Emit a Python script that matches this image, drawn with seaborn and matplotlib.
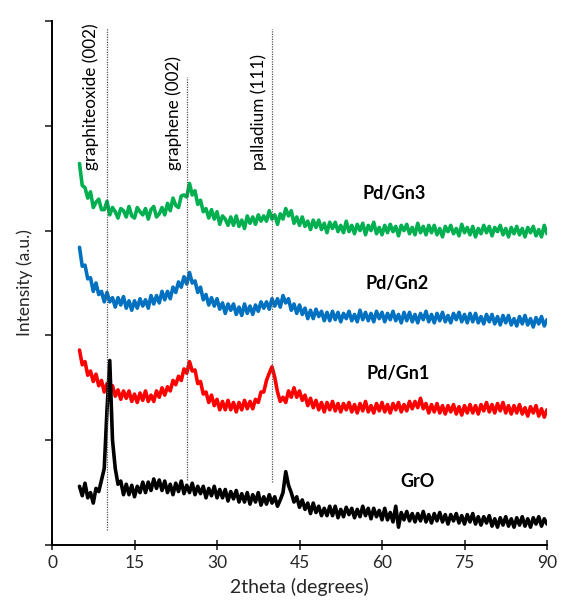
import numpy as np
import pandas as pd
import matplotlib
matplotlib.use("Agg")
import matplotlib.pyplot as plt
import seaborn as sns

# ---------------- data ----------------
# 2theta grid: 5.0 .. 90.0 deg in 0.5 deg steps (171 samples)
two_theta = np.arange(5.0, 90.0 + 0.25, 0.5)

# intensities (a.u.), one row = 5 degrees
pd_gn3 = [
    364, 343, 341, 331, 337, 322, 327, 330, 320, 320,
    328, 315, 322, 318, 312, 321, 319, 313, 323, 314,
    312, 322, 318, 315, 321, 311, 320, 323, 313, 316,
    322, 315, 326, 319, 331, 324, 322, 333, 334, 332,
    345, 334, 338, 325, 329, 318, 321, 312, 320, 311,
    318, 306, 314, 311, 305, 313, 305, 314, 304, 310,
    302, 314, 307, 313, 306, 315, 309, 314, 309, 319,
    311, 315, 306, 316, 311, 321, 314, 319, 307, 313,
    305, 313, 304, 309, 301, 310, 303, 310, 301, 307,
    298, 308, 302, 308, 299, 305, 298, 309, 299, 305,
    297, 306, 300, 307, 296, 305, 300, 308, 297, 303,
    296, 305, 298, 306, 299, 304, 295, 305, 300, 306,
    297, 303, 296, 307, 298, 304, 296, 305, 298, 305,
    296, 302, 294, 304, 299, 305, 297, 302, 295, 306,
    298, 303, 296, 304, 294, 302, 297, 305, 298, 304,
    295, 303, 299, 305, 296, 302, 294, 303, 297, 304,
    296, 302, 294, 303, 298, 304, 295, 301, 294, 305,
    297,
]

pd_gn2 = [
    284, 266, 267, 254, 255, 242, 250, 239, 242, 232,
    241, 232, 236, 227, 236, 229, 237, 226, 233, 224,
    233, 226, 235, 228, 234, 226, 238, 230, 238, 231,
    242, 234, 242, 235, 246, 241, 251, 246, 256, 249,
    260, 250, 252, 241, 246, 234, 239, 229, 236, 228,
    235, 225, 231, 221, 230, 224, 230, 220, 227, 219,
    230, 221, 228, 220, 229, 223, 232, 226, 232, 225,
    235, 228, 235, 227, 238, 231, 235, 224, 230, 221,
    229, 220, 226, 216, 224, 216, 225, 218, 223, 214,
    222, 214, 223, 215, 222, 213, 221, 216, 223, 214,
    220, 213, 224, 215, 222, 214, 221, 213, 223, 216,
    222, 213, 221, 215, 223, 214, 220, 212, 222, 214,
    222, 213, 220, 212, 221, 215, 223, 213, 220, 212,
    221, 214, 222, 213, 219, 212, 221, 215, 222, 213,
    220, 212, 221, 213, 221, 212, 218, 211, 220, 213,
    220, 211, 218, 210, 219, 212, 219, 210, 216, 209,
    218, 211, 219, 210, 216, 208, 217, 211, 218, 209,
    215,
]

pd_gn1 = [
    186, 172, 175, 162, 166, 156, 163, 152, 157, 146,
    154, 146, 152, 142, 148, 139, 147, 140, 147, 137,
    144, 136, 145, 138, 147, 137, 143, 137, 147, 141,
    150, 143, 151, 147, 157, 153, 161, 157, 168, 164,
    175, 166, 167, 154, 156, 144, 146, 136, 143, 133,
    139, 129, 137, 129, 138, 129, 136, 127, 136, 129,
    138, 130, 137, 130, 139, 136, 146, 146, 157, 164,
    170, 160, 146, 137, 141, 136, 147, 141, 150, 141,
    147, 138, 143, 133, 140, 131, 138, 129, 136, 127,
    136, 129, 137, 128, 135, 127, 135, 129, 136, 127,
    134, 126, 135, 128, 137, 127, 133, 126, 135, 128,
    136, 127, 134, 126, 135, 129, 136, 127, 134, 128,
    137, 130, 137, 131, 140, 130, 135, 126, 134, 127,
    135, 126, 133, 125, 133, 127, 134, 125, 132, 124,
    133, 126, 134, 126, 133, 125, 134, 128, 136, 127,
    134, 126, 135, 128, 136, 126, 133, 125, 133, 126,
    134, 125, 131, 123, 132, 126, 133, 123, 130, 122,
    129,
]

gro = [
    56, 47, 59, 45, 50, 40, 54, 51, 62, 73,
    129, 176, 100, 73, 58, 61, 48, 58, 48, 57,
    46, 56, 50, 60, 50, 60, 52, 63, 54, 62,
    52, 61, 50, 58, 48, 59, 51, 61, 49, 57,
    50, 59, 48, 56, 49, 56, 45, 54, 47, 56,
    45, 53, 45, 53, 42, 51, 44, 52, 41, 49,
    41, 50, 39, 48, 41, 50, 38, 46, 39, 48,
    40, 46, 37, 43, 50, 70, 57, 50, 41, 46,
    36, 43, 34, 40, 30, 40, 31, 37, 28, 35,
    28, 37, 28, 37, 26, 34, 27, 36, 29, 35,
    26, 34, 27, 37, 28, 35, 25, 35, 27, 33,
    24, 35, 24, 31, 22, 37, 17, 31, 24, 32,
    23, 30, 22, 30, 23, 32, 22, 29, 21, 30,
    23, 31, 22, 29, 20, 29, 23, 30, 21, 28,
    20, 29, 22, 30, 20, 27, 19, 27, 21, 28,
    18, 25, 17, 26, 19, 27, 18, 25, 17, 26,
    19, 27, 18, 25, 17, 26, 20, 27, 18, 25,
    20,
]

series_names = ["Pd/Gn3", "Pd/Gn2", "Pd/Gn1", "GrO"]
series_values = [pd_gn3, pd_gn2, pd_gn1, gro]
series_colors = ["#00B050", "#0070C0", "#FF0000", "#000000"]

# reference lines: position, label, y-range
ref_positions = [10.0, 24.6, 40.0]
ref_labels = ["graphiteoxide (002)", "graphene (002)", "palladium (111)"]
ref_ymin = [14, 62, 60]
ref_ymax = [493, 447, 492]
ref_label_x = [7.0, 22.2, 37.6]

# sample label positions
label_x = [62.2, 62.8, 62.9, 66.5]
label_y = [335, 250, 164, 61]

x_ticks = [0, 15, 30, 45, 60, 75, 90]
y_ticks = [0, 100, 200, 300, 400, 500]

# ---------------- plotting ----------------
sns.set_style("ticks")
plt.rcParams["font.family"] = ["Lato", "DejaVu Sans"]

fig = plt.figure(figsize=(5.61, 6.05), dpi=100)
ax = fig.add_axes([52 / 561, 60 / 605, 495 / 561, 524 / 605])

frames = []
for name, vals in zip(series_names, series_values):
    assert len(vals) == len(two_theta), (name, len(vals))
    frames.append(pd.DataFrame({"2theta": two_theta, "intensity": vals, "sample": name}))
df = pd.concat(frames, ignore_index=True)

sns.lineplot(data=df, x="2theta", y="intensity", hue="sample",
             palette=dict(zip(series_names, series_colors)),
             estimator=None, sort=False, lw=2.6, legend=False, ax=ax)

for xp, lab, y0, y1, lx in zip(ref_positions, ref_labels, ref_ymin, ref_ymax, ref_label_x):
    ax.plot([xp, xp], [y0, y1], ls=(0, (1, 1)), color="#555555", lw=0.9, zorder=3)
    ax.text(lx, 358, lab, rotation=90, ha="center", va="bottom", fontsize=12.3,
            color="black")

for name, lx, ly in zip(series_names, label_x, label_y):
    ax.text(lx, ly, name, ha="center", va="center", fontsize=13,
            fontweight="bold", color="black")

ax.set_xlim(0, 90)
ax.set_ylim(0, 500)
ax.set_xticks(x_ticks)
ax.set_xticklabels([str(t) for t in x_ticks])
ax.set_yticks(y_ticks)
ax.set_yticklabels([])
ax.tick_params(axis="x", direction="inout", length=7, width=1.2, labelsize=12.5, pad=4)
ax.tick_params(axis="y", direction="out", length=5, width=1.2)
for s in ["top", "right"]:
    ax.spines[s].set_visible(False)
for s in ["left", "bottom"]:
    ax.spines[s].set_linewidth(1.4)
    ax.spines[s].set_color("black")

ax.set_xlabel("2theta (degrees)", fontsize=14, labelpad=5)
ax.set_ylabel("Intensity (a.u.)", fontsize=12.5, labelpad=5)

fig.savefig("out.png", dpi=100)
